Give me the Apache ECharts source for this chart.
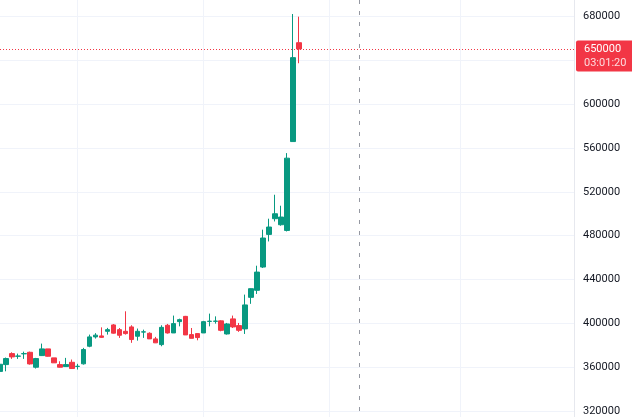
<!DOCTYPE html>
<html><head><meta charset="utf-8">
<script src="https://cdn.jsdelivr.net/npm/echarts@6/dist/echarts.min.js"></script>
<style>html,body{margin:0;padding:0;background:#fff;overflow:hidden}#c{width:632px;height:417px}</style>
</head><body><div id="c"></div>
<script>
// ---- data ----
const opens  = [356500,362700,372700,370300,372500,373900,360300,370900,377000,368800,362700,360900,364800,361000,363400,379400,387900,388800,393000,398800,394500,393000,397000,388500,392300,391200,386100,380900,398500,391500,401800,406600,390000,390900,391500,402000,402100,402500,390600,404300,398200,395200,423900,430300,451500,481200,495500,490000,484800,565700,655700];
const closes = [363000,368200,369700,370500,372700,363300,368200,377000,370300,364300,360300,362700,359100,361200,376400,387900,389500,387500,394500,391300,389400,390900,385500,393000,392500,386100,382500,396600,391500,400000,403600,389700,386600,387300,401800,402200,402300,393900,399700,397000,393900,417000,431800,446900,477900,487900,500000,497000,550600,642100,650000];
const lows   = [355000,356600,367900,367900,367900,362700,359100,370500,370000,364300,360000,360500,358800,358200,362700,378500,386400,387000,390000,390900,387000,390000,382500,384500,387000,386000,382300,379400,390900,391500,397500,389700,386600,384800,391500,397500,400000,393000,390000,396000,392500,390600,418000,427000,450600,474800,493000,489100,483900,565700,637000];
const highs  = [365000,369100,373900,372700,374500,374500,368800,381800,377000,368800,365700,368800,367300,363400,377900,390000,391300,396600,396100,399600,396000,411200,398500,395500,394500,392100,387900,398500,399700,407300,404500,407000,396000,391000,402500,409100,406600,403000,400600,407300,400600,426400,432000,452700,485500,495500,517300,507300,555200,681800,679400];
const slotCount = 97;                       // candle slots across the pane (incl. empty future slots)
const categories = Array.from({length: slotCount}, (_, i) => 'T' + i);
const yTickMin = 320000, yTickMax = 680000, yTickStep = 40000;
const timeGridSlots = [13, 34, 55, 77];
const cursorSlot = 60;
const lastPrice = 650000;
const countdown = '03:01:20';

const UP = '#089981', DOWN = '#F23645';
const candleData = opens.map((o, i) => [o, closes[i], lows[i], highs[i]]);

const chart = echarts.init(document.getElementById('c'), null, {renderer: 'canvas'});
chart.setOption({
  animation: false,
  backgroundColor: '#ffffff',
  grid: [
    {left: -2, width: 576, top: 16, height: 396},
    {left: -2, width: 576, top: 0, height: 417}
  ],
  xAxis: [
    {gridIndex: 0, type: 'category', data: categories, boundaryGap: false,
     axisLine: {show: false}, axisTick: {show: false}, axisLabel: {show: false}, splitLine: {show: false}},
    {gridIndex: 1, type: 'category', data: categories, boundaryGap: false,
     axisLine: {show: false}, axisTick: {show: false}, axisLabel: {show: false},
     splitLine: {show: true, interval: (idx) => timeGridSlots.includes(idx), lineStyle: {color: '#f0f3fa', width: 1}}}
  ],
  yAxis: [
    {gridIndex: 0, type: 'value', position: 'right', min: yTickMin, max: yTickMax, interval: yTickStep,
     axisLine: {show: false}, axisTick: {show: false},
     axisLabel: {color: '#131722', fontFamily: 'Roboto', fontSize: 11, margin: 9, formatter: v => String(v)},
     splitLine: {show: true, lineStyle: {color: '#f0f3fa', width: 1}}},
    {gridIndex: 1, type: 'value', position: 'right', min: 0, max: 1,
     axisLine: {show: true, lineStyle: {color: '#e6e8ee', width: 1}}, axisTick: {show: false},
     axisLabel: {show: false}, splitLine: {show: false}}
  ],
  series: [{
    type: 'candlestick',
    xAxisIndex: 0, yAxisIndex: 0,
    data: candleData,
    barWidth: 5,
    clip: false,
    itemStyle: {color: UP, color0: DOWN, borderColor: UP, borderColor0: DOWN, borderWidth: 1}
  }]
});

const py = chart.convertToPixel({yAxisIndex: 0}, lastPrice);
const cx = chart.convertToPixel({xAxisIndex: 1}, cursorSlot);
const paneRight = chart.convertToPixel({xAxisIndex: 1}, slotCount - 1);
chart.setOption({
  graphic: [
    {type: 'line', silent: true, z: 5,
     shape: {x1: Math.round(cx) + 0.5, y1: 0, x2: Math.round(cx) + 0.5, y2: 417},
     style: {stroke: '#9598a1', lineWidth: 1, lineDash: [4, 7]}},
    {type: 'line', silent: true, z: 6,
     shape: {x1: 0, y1: Math.round(py) + 0.5, x2: paneRight, y2: Math.round(py) + 0.5},
     style: {stroke: DOWN, lineWidth: 1, lineDash: [1, 2]}},
    {type: 'rect', silent: true, z: 10,
     shape: {x: 576, y: py - 8.5, width: 56, height: 31, r: [2, 0, 0, 2]},
     style: {fill: DOWN}},
    {type: 'text', silent: true, z: 11, x: 584, y: py,
     style: {text: String(lastPrice), fill: '#ffffff', font: '11px Roboto', verticalAlign: 'middle', align: 'left'}},
    {type: 'text', silent: true, z: 11, x: 584, y: py + 14.5,
     style: {text: countdown, fill: 'rgba(255,255,255,0.82)', font: '11px Roboto', verticalAlign: 'middle', align: 'left'}}
  ]
});
</script>
</body></html>
